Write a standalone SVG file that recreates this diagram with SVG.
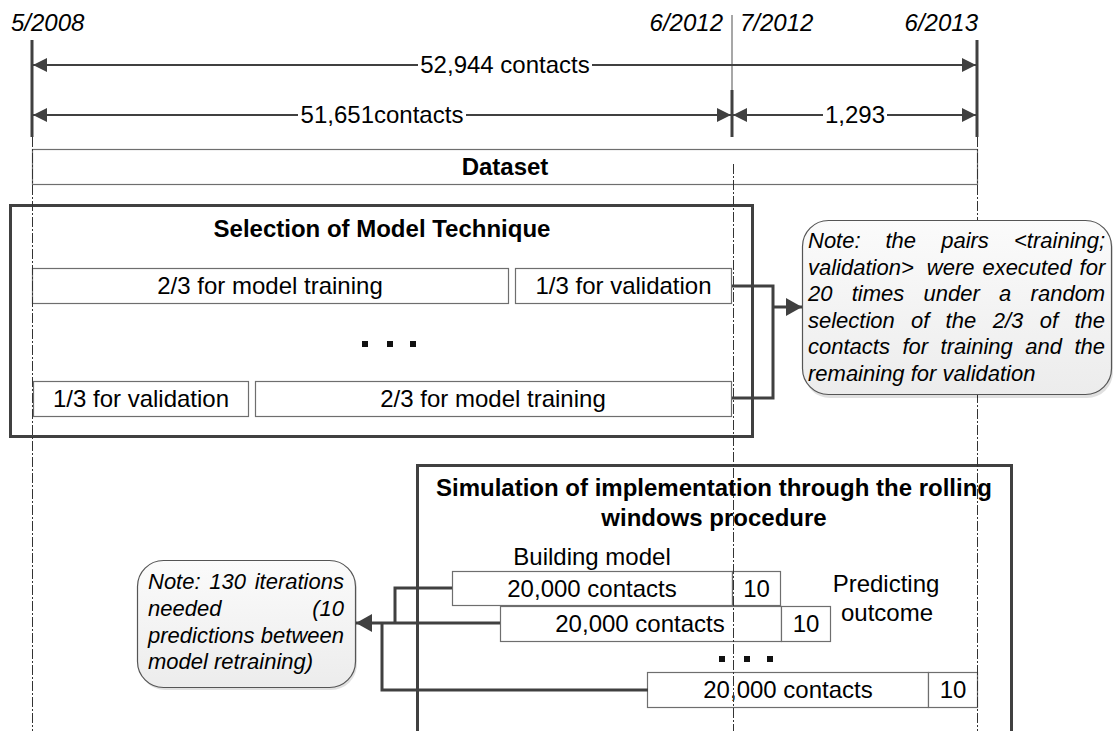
<svg xmlns="http://www.w3.org/2000/svg" width="1113" height="731" viewBox="0 0 1113 731">
  <defs>
    <marker id="ah" viewBox="0 0 14 14" refX="14" refY="7" markerWidth="14" markerHeight="14" markerUnits="userSpaceOnUse" orient="auto-start-reverse">
      <path d="M0,0 L14,7 L0,14 Z" fill="#404040"/>
    </marker>
    <marker id="ahBig" viewBox="0 0 16 18" refX="16" refY="9" markerWidth="16" markerHeight="18" markerUnits="userSpaceOnUse" orient="auto">
      <path d="M0,0 L16,9 L0,18 Z" fill="#404040"/>
    </marker>
    <linearGradient id="noteFill" x1="0" y1="0" x2="0" y2="1">
      <stop offset="0" stop-color="#fbfbfb"/>
      <stop offset="1" stop-color="#ececec"/>
    </linearGradient>
    <style>
      text { font-family: "Liberation Sans", Arial, sans-serif; fill: #000; }
      .lbl { font-size: 24px; }
      .date { font-size: 24px; font-style: italic; }
      .bold { font-size: 24px; font-weight: bold; }
      .note { font-size: 22px; font-style: italic; }
      .mid { text-anchor: middle; }
      .end { text-anchor: end; }
      .cell { fill: #fff; stroke: #6e6e6e; stroke-width: 1.2; }
      .frame { fill: none; stroke: #404040; stroke-width: 3; }
      .dim { fill: none; stroke: #404040; stroke-width: 2; }
      .link { fill: none; stroke: #404040; stroke-width: 3; }
      .tick { stroke: #404040; stroke-width: 3; }
      .guide { fill: none; stroke: #333; stroke-width: 1; stroke-dasharray: 10 2 2 2; }
      .callout { fill: url(#noteFill); stroke: #555; stroke-width: 1.2; }
      .shadow { fill: #000; opacity: 0.12; }
      .dot { fill: #111; }
    </style>
  </defs>

  <rect width="1113" height="731" fill="#fff"/>

  <!-- time axis: dates and period bounds -->
  <g id="timeline">
    <text class="date" x="11" y="31">5/2008</text>
    <text class="date end" x="723" y="31">6/2012</text>
    <text class="date" x="740" y="31">7/2012</text>
    <text class="date end" x="978" y="31">6/2013</text>
    <line x1="732" y1="15" x2="732" y2="90" stroke="#8a8a8a" stroke-width="1.5"/>
    <line class="tick" x1="32" y1="40" x2="32" y2="137"/>
    <line class="tick" x1="977" y1="40" x2="977" y2="137"/>
    <line class="tick" x1="732" y1="90" x2="732" y2="137"/>
  </g>

  <!-- dimension arrows with contact counts -->
  <g id="connectors-dimensions">
    <line class="dim" x1="33" y1="65" x2="418" y2="65" marker-start="url(#ah)"/>
    <line class="dim" x1="592" y1="65" x2="976" y2="65" marker-end="url(#ah)"/>
    <text class="lbl mid" x="505" y="73">52,944 contacts</text>

    <line class="dim" x1="33" y1="115" x2="298" y2="115" marker-start="url(#ah)"/>
    <line class="dim" x1="466" y1="115" x2="731" y2="115" marker-end="url(#ah)"/>
    <text class="lbl mid" x="382" y="123">51,651contacts</text>

    <line class="dim" x1="733" y1="115" x2="823" y2="115" marker-start="url(#ah)"/>
    <line class="dim" x1="887" y1="115" x2="976" y2="115" marker-end="url(#ah)"/>
    <text class="lbl mid" x="855" y="123">1,293</text>
  </g>

  <!-- full dataset bar -->
  <g id="dataset">
    <rect class="cell" x="32.5" y="149.5" width="945" height="35"/>
    <text class="bold mid" x="505" y="175">Dataset</text>
  </g>

  <!-- model technique selection -->
  <g id="selection">
    <rect class="frame" x="10.5" y="205.5" width="742" height="231"/>
    <text class="bold mid" x="382" y="237">Selection of Model Technique</text>

    <rect class="cell" x="32.5" y="268.5" width="476" height="35"/>
    <text class="lbl mid" x="270" y="294">2/3 for model training</text>
    <rect class="cell" x="515.5" y="268.5" width="216" height="35"/>
    <text class="lbl mid" x="623.5" y="294">1/3 for validation</text>

    <rect class="dot" x="362" y="341" width="6" height="6"/>
    <rect class="dot" x="387" y="341" width="6" height="6"/>
    <rect class="dot" x="410" y="341" width="6" height="6"/>

    <rect class="cell" x="33.5" y="381.5" width="215" height="35"/>
    <text class="lbl mid" x="141" y="407">1/3 for validation</text>
    <rect class="cell" x="255.5" y="381.5" width="476" height="35"/>
    <text class="lbl mid" x="493" y="407">2/3 for model training</text>
  </g>

  <!-- rolling windows simulation -->
  <g id="simulation">
    <path class="frame" d="M417.5,740 V465.5 H1011.5 V740"/>
    <text class="bold mid" x="714" y="496">Simulation of implementation through the rolling</text>
    <text class="bold mid" x="714" y="526">windows procedure</text>
    <text class="lbl mid" x="592" y="565">Building model</text>
    <text class="lbl mid" x="886" y="592">Predicting</text>
    <text class="lbl mid" x="887" y="621">outcome</text>

    <g id="window-1">
      <rect class="cell" x="452.5" y="571.5" width="280" height="34"/>
      <text class="lbl mid" x="592" y="597">20,000 contacts</text>
      <rect class="cell" x="732.5" y="571.5" width="48" height="34"/>
      <text class="lbl mid" x="756.5" y="597">10</text>
    </g>
    <g id="window-2">
      <rect class="cell" x="500.5" y="606.5" width="281" height="35"/>
      <text class="lbl mid" x="640" y="632">20,000 contacts</text>
      <rect class="cell" x="781.5" y="606.5" width="49" height="35"/>
      <text class="lbl mid" x="806" y="632">10</text>
    </g>

    <rect class="dot" x="719" y="656" width="6" height="6"/>
    <rect class="dot" x="744" y="656" width="6" height="6"/>
    <rect class="dot" x="767" y="656" width="6" height="6"/>

    <g id="window-n">
      <rect class="cell" x="647.5" y="672.5" width="281" height="35"/>
      <text class="lbl mid" x="788" y="698">20,000 contacts</text>
      <rect class="cell" x="928.5" y="672.5" width="49" height="35"/>
      <text class="lbl mid" x="953" y="698">10</text>
    </g>
  </g>

  <!-- vertical period guides -->
  <g id="guides">
    <line class="guide" x1="32.5" y1="137" x2="32.5" y2="731"/>
    <line class="guide" x1="733.5" y1="164" x2="733.5" y2="731"/>
    <line class="guide" x1="977.5" y1="137" x2="977.5" y2="731"/>
  </g>

  <!-- links from the cell rows to the notes -->
  <g id="connectors">
    <polyline class="link" points="732,286 773,286 773,398 732,398"/>
    <line class="link" x1="773" y1="307" x2="802" y2="307" marker-end="url(#ahBig)"/>

    <polyline class="link" points="452,588 395,588 395,623"/>
    <polyline class="link" points="648,690 382,690 382,623"/>
    <line class="link" x1="500" y1="623" x2="356" y2="623" marker-end="url(#ahBig)"/>
  </g>

  <!-- note on repeated validation pairs -->
  <g id="note-validation">
    <rect class="shadow" x="804" y="223" width="309" height="175" rx="26"/>
    <rect class="callout" x="802.5" y="220.5" width="309" height="174" rx="26"/>
    <text class="note" y="248"><tspan x="808">Note:</tspan><tspan x="885.5">the</tspan><tspan x="941.2">pairs</tspan><tspan x="1014">&lt;training;</tspan></text>
    <text class="note" y="274.5"><tspan x="808">validation&gt;</tspan><tspan x="926.8">were</tspan><tspan x="982.4">executed</tspan><tspan x="1079.6">for</tspan></text>
    <text class="note" y="301"><tspan x="808">20</tspan><tspan x="851.7">times</tspan><tspan x="923.6">under</tspan><tspan x="999.1">a</tspan><tspan x="1030.6">random</tspan></text>
    <text class="note" y="327.5"><tspan x="808">selection</tspan><tspan x="911">of</tspan><tspan x="945.6">the</tspan><tspan x="992.7">2/3</tspan><tspan x="1039.8">of</tspan><tspan x="1074.5">the</tspan></text>
    <text class="note" y="354"><tspan x="808">contacts</tspan><tspan x="902.4">for</tspan><tspan x="940.6">training</tspan><tspan x="1025.3">and</tspan><tspan x="1074.5">the</tspan></text>
    <text class="note" x="808" y="380.5">remaining for validation</text>
  </g>

  <!-- note on rolling iterations -->
  <g id="note-iterations">
    <rect class="shadow" x="139" y="562" width="218" height="128" rx="26"/>
    <rect class="callout" x="137.5" y="560.5" width="218" height="127" rx="26"/>
    <text class="note" y="589"><tspan x="148">Note:</tspan><tspan x="209.3">130</tspan><tspan x="254.7">iterations</tspan></text>
    <text class="note" y="616"><tspan x="148">needed</tspan><tspan x="312.2">(10</tspan></text>
    <text class="note" y="643"><tspan x="148">predictions</tspan><tspan x="260.8">between</tspan></text>
    <text class="note" x="148" y="669">model retraining)</text>
  </g>
</svg>
